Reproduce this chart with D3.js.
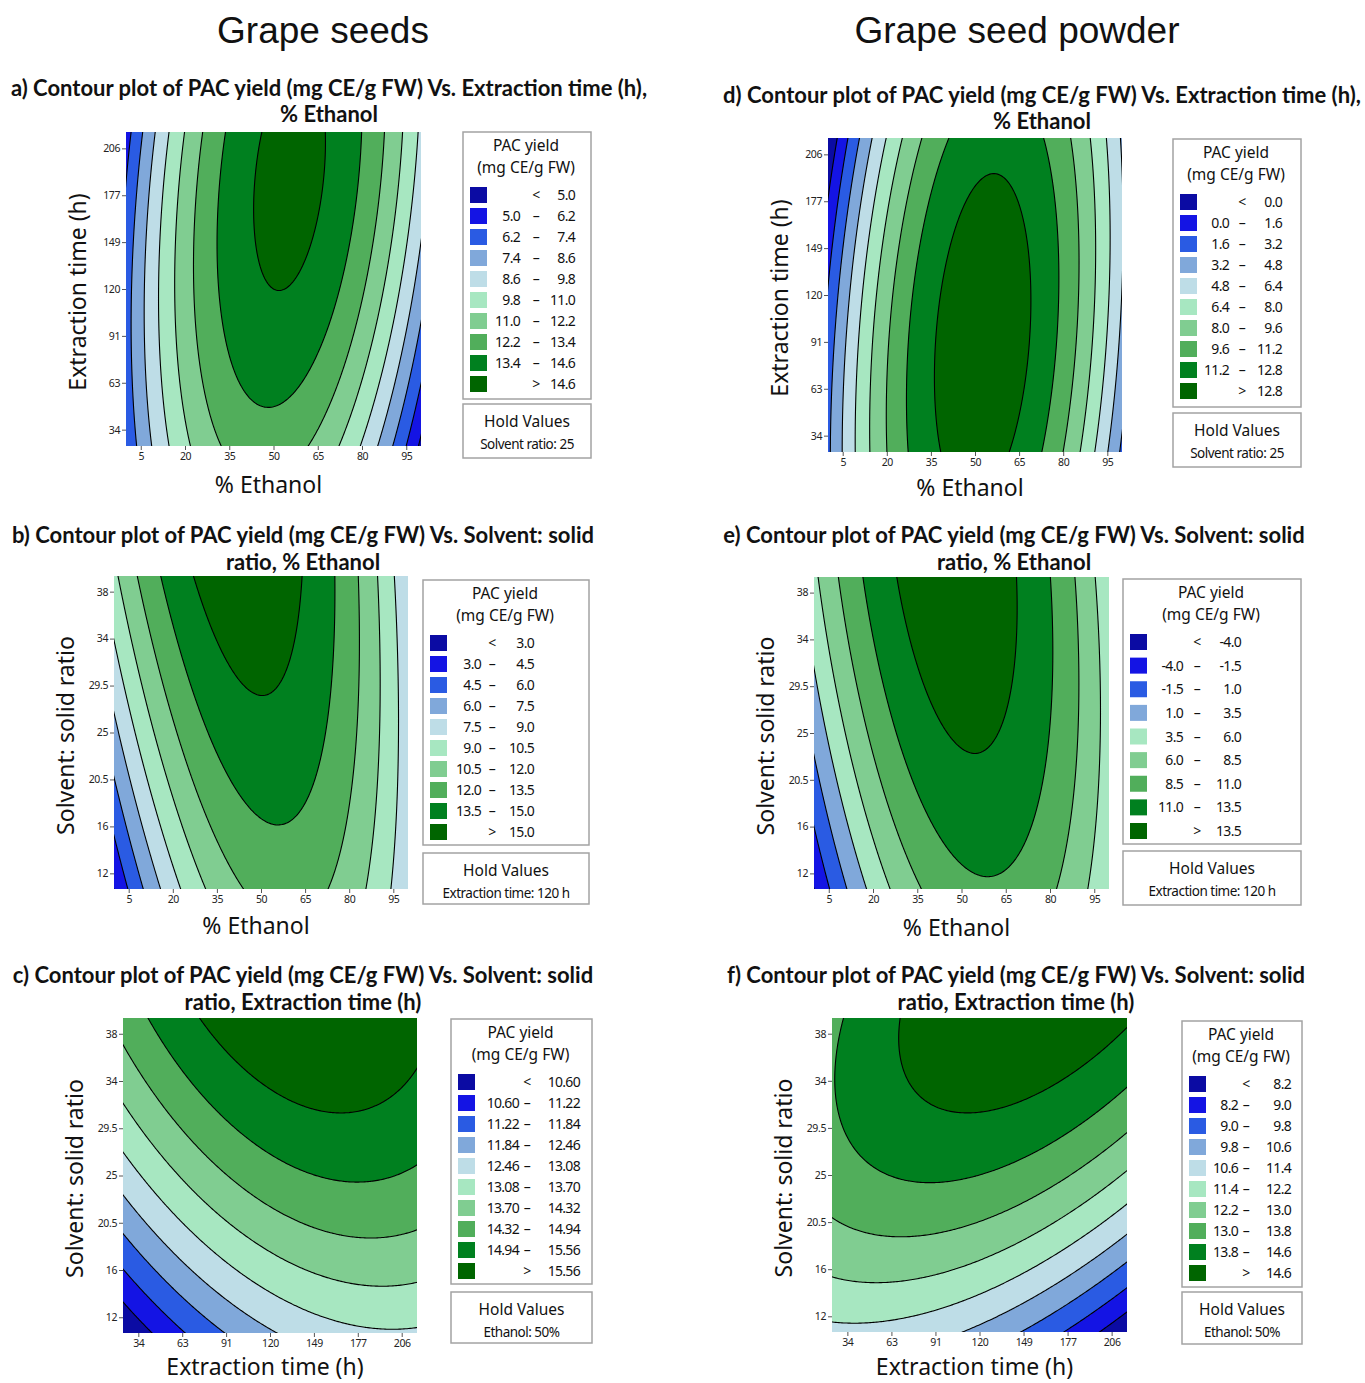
<!DOCTYPE html>
<meta charset="utf-8">
<style>
  body { margin: 0; background: #fff; }
  text { fill: #111; }
  .bigTitle { font-family: 'Liberation Sans', Arial, sans-serif; font-size: 37px; }
  .panelTitle { font-family: 'Lato', sans-serif; font-weight: bold; font-size: 22px; }
  .axisTitle { font-family: 'Noto Sans', sans-serif; font-size: 23px; }
  .tick text { font-family: 'Noto Sans', sans-serif; font-size: 10.5px; letter-spacing: -0.4px; fill: #222; }
  .tick line { stroke: #555; }
  .legTitle { font-family: 'Noto Sans', sans-serif; font-size: 15.5px; }
  .legNum { font-family: 'Noto Sans', sans-serif; font-size: 14px; letter-spacing: -0.7px; }
  .holdSmall { font-family: 'Noto Sans', sans-serif; font-size: 13.5px; letter-spacing: -0.5px; }
</style>
<body>
<div id="chart"></div>
<script src="https://d3js.org/d3.v7.min.js"></script>
<script>
// factor ranges of the design (real units) and their ticks
var ethanolRange = [0, 100];
var timeRange = [24, 216];
var ratioRange = [10, 40];
var ethanolTicks = [5, 20, 35, 50, 65, 80, 95];
var ethanolTickLabels = ["5", "20", "35", "50", "65", "80", "95"];
var timeTicks = [34, 62.67, 91.33, 120, 148.67, 177.33, 206];
var timeTickLabels = ["34", "63", "91", "120", "149", "177", "206"];
var ratioTicks = [11.5, 16, 20.5, 25, 29.5, 34, 38.5];
var ratioTickLabels = ["12", "16", "20.5", "25", "29.5", "34", "38"];

// contour breaks (legend) of each panel
var levelsA = [5.0, 6.2, 7.4, 8.6, 9.8, 11.0, 12.2, 13.4, 14.6];
var levelsB = [3.0, 4.5, 6.0, 7.5, 9.0, 10.5, 12.0, 13.5, 15.0];
var levelsC = [10.60, 11.22, 11.84, 12.46, 13.08, 13.70, 14.32, 14.94, 15.56];
var levelsD = [0.0, 1.6, 3.2, 4.8, 6.4, 8.0, 9.6, 11.2, 12.8];
var levelsE = [-4.0, -1.5, 1.0, 3.5, 6.0, 8.5, 11.0, 13.5];
var levelsF = [8.2, 9.0, 9.8, 10.6, 11.4, 12.2, 13.0, 13.8, 14.6];

// quadratic response surfaces, coded units (-1..1)
// [b0, bX, bY, bXX, bYY, bXY]
var coefA = [14.6, 0.55, 1.0, -7.2, -0.8, 1.41];
var coefB = [14.61, 0.55, 1.76, -7.0, -0.47, -1.81];
var coefC = [14.7, 1.05, 1.83, -0.9, -0.48, -0.46];
var coefD = [13.74, 1.52, -0.65, -10.5, -1.02, 1.52];
var coefE = [13.75, 1.60, 2.44, -10.45, -0.98, -2.29];
var coefF = [13.8, -0.65, 2.4, -1.05, -1.0, 1.2];

// Minitab contour colours, low -> high
var palette = ["#0b0ba3", "#1414e4", "#2a5be3", "#80a8da", "#bedde7", "#a7e7c1", "#80cd91", "#51ae5b", "#00801f", "#006500"];
var paletteE = ["#0b0ba3", "#1414e4", "#2a5be3", "#80a8da", "#a7e7c1", "#80cd91", "#51ae5b", "#00801f", "#006500"];

var axes = {
  ethanol: { range: ethanolRange, ticks: ethanolTicks, labels: ethanolTickLabels, title: "% Ethanol" },
  time: { range: timeRange, ticks: timeTicks, labels: timeTickLabels, title: "Extraction time (h)" },
  ratio: { range: ratioRange, ticks: ratioTicks, labels: ratioTickLabels, title: "Solvent: solid ratio" }
};

var panels = [
  { title: ["a) Contour plot of PAC yield (mg CE/g FW) Vs. Extraction time (h),", "% Ethanol"], tx: 329, ty: [96, 122],
    xa: "ethanol", ya: "time", coef: coefA, levels: levelsA, colors: palette, dec: 1, xtOff: 47,
    hold: "Solvent ratio: 25", plot: [126, 132, 295, 314], leg: [463, 132, 128, 267], hb: [463, 404, 128, 54], cols: [57, 73, 112] },
  { title: ["b) Contour plot of PAC yield (mg CE/g FW) Vs. Solvent: solid", "ratio, % Ethanol"], tx: 303, ty: [543, 570],
    xa: "ethanol", ya: "ratio", coef: coefB, levels: levelsB, colors: palette, dec: 1, xtOff: 45,
    hold: "Extraction time: 120 h", plot: [114, 576, 294, 313], leg: [423, 580, 166, 265], hb: [423, 853, 166, 51], cols: [58, 69, 111] },
  { title: ["c) Contour plot of PAC yield (mg CE/g FW) Vs. Solvent: solid", "ratio, Extraction time (h)"], tx: 303, ty: [983, 1010],
    xa: "time", ya: "ratio", coef: coefC, levels: levelsC, colors: palette, dec: 2, xtOff: 42,
    hold: "Ethanol: 50%", plot: [123, 1018, 294, 315], leg: [451, 1019, 141, 265], hb: [451, 1292, 141, 51], cols: [68, 76, 129] },
  { title: ["d) Contour plot of PAC yield (mg CE/g FW) Vs. Extraction time (h),", "% Ethanol"], tx: 1042, ty: [103, 129],
    xa: "ethanol", ya: "time", coef: coefD, levels: levelsD, colors: palette, dec: 1, xtOff: 44,
    hold: "Solvent ratio: 25", plot: [828, 138, 294, 314], leg: [1173, 139, 128, 268], hb: [1173, 413, 128, 54], cols: [56, 69, 109] },
  { title: ["e) Contour plot of PAC yield (mg CE/g FW) Vs. Solvent: solid", "ratio, % Ethanol"], tx: 1014, ty: [543, 570],
    xa: "ethanol", ya: "ratio", coef: coefE, levels: levelsE, colors: paletteE, dec: 1, xtOff: 47,
    hold: "Extraction time: 120 h", plot: [814, 577, 295, 312], leg: [1123, 579, 178, 265], hb: [1123, 851, 178, 54], cols: [60, 74, 118] },
  { title: ["f) Contour plot of PAC yield (mg CE/g FW) Vs. Solvent: solid", "ratio, Extraction time (h)"], tx: 1016, ty: [983, 1010],
    xa: "time", ya: "ratio", coef: coefF, levels: levelsF, colors: palette, dec: 1, xtOff: 43,
    hold: "Ethanol: 50%", plot: [832, 1018, 295, 314], leg: [1182, 1021, 120, 266], hb: [1182, 1292, 120, 52], cols: [56, 64, 109] }
];

var svg = d3.select("#chart").append("svg")
  .attr("width", 1365)
  .attr("height", 1383);

// column headings
svg.append("text").attr("class", "bigTitle").attr("x", 323).attr("y", 43).attr("text-anchor", "middle").text("Grape seeds");
svg.append("text").attr("class", "bigTitle").attr("x", 1017).attr("y", 43).attr("text-anchor", "middle").text("Grape seed powder");

function surface(coef, xr, yr) {
  var xc = (xr[0] + xr[1]) / 2, xh = (xr[1] - xr[0]) / 2;
  var yc = (yr[0] + yr[1]) / 2, yh = (yr[1] - yr[0]) / 2;
  return function(x, y) {
    var u = (x - xc) / xh, v = (y - yc) / yh;
    return coef[0] + coef[1] * u + coef[2] * v + coef[3] * u * u + coef[4] * v * v + coef[5] * u * v;
  };
}

panels.forEach(function(p, pi) {
  var L = p.plot[0], T = p.plot[1], W = p.plot[2], H = p.plot[3];
  var ax = axes[p.xa], ay = axes[p.ya];
  var x = d3.scaleLinear().domain(ax.range).range([L, L + W]);
  var y = d3.scaleLinear().domain(ay.range).range([T + H, T]);
  var f = surface(p.coef, ax.range, ay.range);

  // grid a bit larger than the plot so that edge segments fall outside the clip
  var nx = 200, ny = 200, pad = 0.03;
  var xspan = ax.range[1] - ax.range[0], yspan = ay.range[1] - ay.range[0];
  var x0 = ax.range[0] - pad * xspan, x1 = ax.range[1] + pad * xspan;
  var yTop = ay.range[1] + pad * yspan, yBot = ay.range[0] - pad * yspan;
  var dx = (x1 - x0) / (nx - 1), dy = (yTop - yBot) / (ny - 1);
  var values = new Array(nx * ny);
  for (var j = 0; j < ny; j++) {
    for (var i = 0; i < nx; i++) {
      values[j * nx + i] = f(x0 + i * dx, yTop - j * dy);
    }
  }
  var contours = d3.contours().size([nx, ny]).thresholds(p.levels)(values);
  var proj = d3.geoTransform({
    point: function(px, py) {
      this.stream.point(x(x0 + (px - 0.5) * dx), y(yTop - (py - 0.5) * dy));
    }
  });
  var path = d3.geoPath(proj);

  svg.append("clipPath").attr("id", "clip" + pi)
    .append("rect").attr("x", L).attr("y", T).attr("width", W).attr("height", H);

  var g = svg.append("g").attr("clip-path", "url(#clip" + pi + ")");
  g.append("rect").attr("x", L).attr("y", T).attr("width", W).attr("height", H)
    .style("fill", p.colors[0]);
  g.selectAll("path.band")
    .data(contours)
    .enter().append("path")
    .attr("class", "band")
    .attr("d", path)
    .style("fill", function(d, k) { return p.colors[k + 1]; })
    .style("stroke", "none");
  g.selectAll("path.line")
    .data(contours)
    .enter().append("path")
    .attr("class", "line")
    .attr("d", path)
    .style("fill", "none")
    .style("stroke", "#000")
    .style("stroke-width", 1.1);

  // axes
  svg.append("g")
    .attr("transform", "translate(0," + (T + H) + ")")
    .call(d3.axisBottom(x).tickValues(ax.ticks).tickFormat(function(d, i) { return ax.labels[i]; })
      .tickSize(4).tickPadding(3))
    .call(function(s) { s.select(".domain").remove(); });
  svg.append("g")
    .attr("transform", "translate(" + L + ",0)")
    .call(d3.axisLeft(y).tickValues(ay.ticks).tickFormat(function(d, i) { return ay.labels[i]; })
      .tickSize(4).tickPadding(2))
    .call(function(s) { s.select(".domain").remove(); });

  svg.append("text").attr("class", "axisTitle")
    .attr("x", L + W / 2 - 5).attr("y", T + H + p.xtOff)
    .attr("text-anchor", "middle").text(ax.title);
  svg.append("text").attr("class", "axisTitle")
    .attr("transform", "translate(" + (L - 40) + "," + (T + H / 2 + 3) + ") rotate(-90)")
    .attr("text-anchor", "middle").text(ay.title);

  // panel title
  p.title.forEach(function(t, k) {
    svg.append("text").attr("class", "panelTitle")
      .attr("x", p.tx).attr("y", p.ty[k])
      .attr("text-anchor", "middle").text(t);
  });

  // legend
  var lx = p.leg[0], ly = p.leg[1], lw = p.leg[2], lh = p.leg[3];
  svg.append("rect").attr("x", lx).attr("y", ly).attr("width", lw).attr("height", lh)
    .style("fill", "#fff").style("stroke", "#a3a3a3").style("stroke-width", 1.5);
  svg.append("text").attr("class", "legTitle").attr("x", lx + lw / 2 - 1).attr("y", ly + 19)
    .attr("text-anchor", "middle").text("PAC yield");
  svg.append("text").attr("class", "legTitle").attr("x", lx + lw / 2 - 1).attr("y", ly + 41)
    .attr("text-anchor", "middle").text("(mg CE/g FW)");

  var n = p.colors.length;
  var rowY = d3.scaleLinear().domain([0, n - 1]).range([ly + 63, ly + 252]);
  var fmt = function(v) { return v.toFixed(p.dec); };
  var rows = svg.append("g").selectAll("g")
    .data(p.colors)
    .enter().append("g")
    .attr("transform", function(d, k) { return "translate(" + lx + "," + rowY(k) + ")"; });
  rows.append("rect").attr("x", 7).attr("y", -8).attr("width", 17).attr("height", 16)
    .style("fill", function(d) { return d; });
  rows.append("text").attr("class", "legNum").attr("x", p.cols[0]).attr("y", 5)
    .attr("text-anchor", "end")
    .text(function(d, k) { return (k > 0 && k < n - 1) ? fmt(p.levels[k - 1]) : ""; });
  rows.append("text").attr("class", "legNum").attr("x", p.cols[1]).attr("y", 5)
    .attr("text-anchor", "middle")
    .text(function(d, k) { return k === 0 ? "<" : (k === n - 1 ? ">" : "\u2013"); });
  rows.append("text").attr("class", "legNum").attr("x", p.cols[2]).attr("y", 5)
    .attr("text-anchor", "end")
    .text(function(d, k) { return k === 0 ? fmt(p.levels[0]) : fmt(p.levels[k - 1 + (k === n - 1 ? 0 : 1)]); });

  // hold values box
  var hx = p.hb[0], hy = p.hb[1], hw = p.hb[2], hh = p.hb[3];
  svg.append("rect").attr("x", hx).attr("y", hy).attr("width", hw).attr("height", hh)
    .style("fill", "#fff").style("stroke", "#a3a3a3").style("stroke-width", 1.5);
  svg.append("text").attr("class", "legTitle").attr("x", hx + hw / 2).attr("y", hy + 23)
    .attr("text-anchor", "middle").text("Hold Values");
  svg.append("text").attr("class", "holdSmall").attr("x", hx + hw / 2).attr("y", hy + 45)
    .attr("text-anchor", "middle").text(p.hold);
});
</script>
</body>
